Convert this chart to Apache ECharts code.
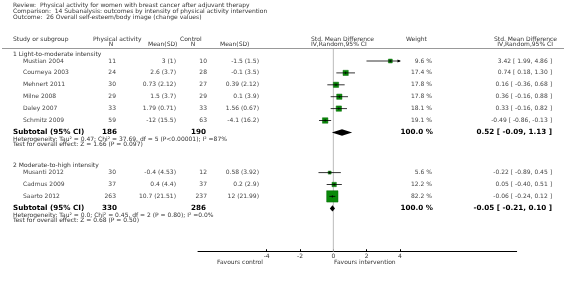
<!DOCTYPE html>
<html>
<head>
<meta charset="utf-8">
<script src="https://cdn.jsdelivr.net/npm/echarts@6/dist/echarts.min.js"></script>
<style>
  html, body { margin: 0; padding: 0; background: #fff; }
  #chart { width: 566px; height: 281px; }
</style>
</head>
<body>
<div id="chart"></div>
<script>
// ---- data ----
const reviewLines = [
  "Review:  Physical activity for women with breast cancer after adjuvant therapy",
  "Comparison:  14 Subanalysis: outcomes by intensity of physical activity intervention",
  "Outcome:  26 Overall self-esteem/body image (change values)",
];

const group1Label = "1 Light-to-moderate intensity";
const studies1 = ["Mustian 2004", "Courneya 2003", "Mehnert 2011", "Milne 2008", "Daley 2007", "Schmitz 2009"];
const paN1 = [11, 24, 30, 29, 33, 59];
const paMean1 = ["3 (1)", "2.6 (3.7)", "0.73 (2.12)", "1.5 (3.7)", "1.79 (0.71)", "-12 (15.5)"];
const cN1 = [10, 28, 27, 29, 33, 63];
const cMean1 = ["-1.5 (1.5)", "-0.1 (3.5)", "0.39 (2.12)", "0.1 (3.9)", "1.56 (0.67)", "-4.1 (16.2)"];
const weight1 = [9.6, 17.4, 17.8, 17.8, 18.1, 19.1];
const smd1 = [3.42, 0.74, 0.16, 0.36, 0.33, -0.49];
const lo1 = [1.99, 0.18, -0.36, -0.16, -0.16, -0.86];
const hi1 = [4.86, 1.30, 0.68, 0.88, 0.82, -0.13];
const subtotal1 = [186, 190, 0.52, -0.09, 1.13]; // paN, cN, smd, lo, hi
const het1 = "Heterogeneity: Tau\u00b2 = 0.47; Chi\u00b2 = 37.69, df = 5 (P<0.00001); I\u00b2 =87%";
const test1 = "Test for overall effect: Z = 1.66 (P = 0.097)";

const group2Label = "2 Moderate-to-high intensity";
const studies2 = ["Musanti 2012", "Cadmus 2009", "Saarto 2012"];
const paN2 = [30, 37, 263];
const paMean2 = ["-0.4 (4.53)", "0.4 (4.4)", "10.7 (21.51)"];
const cN2 = [12, 37, 237];
const cMean2 = ["0.58 (3.92)", "0.2 (2.9)", "12 (21.99)"];
const weight2 = [5.6, 12.2, 82.2];
const smd2 = [-0.22, 0.05, -0.06];
const lo2 = [-0.89, -0.40, -0.24];
const hi2 = [0.45, 0.51, 0.12];
const subtotal2 = [330, 286, -0.05, -0.21, 0.10];
const het2 = "Heterogeneity: Tau\u00b2 = 0.0; Chi\u00b2 = 0.45, df = 2 (P = 0.80); I\u00b2 =0.0%";
const test2 = "Test for overall effect: Z = 0.68 (P = 0.50)";

const axisTicks = [-4, -2, 0, 2, 4];
const favoursLeft = "Favours control";
const favoursRight = "Favours intervention";

// ---- layout ----
const FONT = '"DejaVu Sans", Verdana, sans-serif';
const col = { group: 13, name: 23, paN: 116, paMean: 176, cN: 207, cMean: 259, weight: 432, smd: 552 };
const AXIS_Y = 251.7;
const XMIN = -8.12, XMAX = 11, CLIP = 4;
const PX_PER_UNIT = 16.667;
const ZERO_X = 333.33;

const fmt = (v) => v.toFixed(2);
const ciText = (e, l, h) => fmt(e) + " [ " + fmt(l) + ", " + fmt(h) + " ]";

// build rows with vertical positions
const rows = [];
let y = 54;
function addGroup(label, studies, paN, paMean, cN, cMean, weight, smd, lo, hi, sub, het, test) {
  rows.push({ kind: "group", y: y, text: label });
  y += 7;
  studies.forEach((s, i) => {
    rows.push({ kind: "study", y: y, name: s, paN: paN[i], paMean: paMean[i], cN: cN[i], cMean: cMean[i],
      w: weight[i], est: smd[i], lo: lo[i], hi: hi[i] });
    y += 11.9;
  });
  y += 0.1;
  rows.push({ kind: "subtotal", y: y, paN: sub[0], cN: sub[1], est: sub[2], lo: sub[3], hi: sub[4] });
  y += 6.6;
  rows.push({ kind: "note", y: y, text: het });
  y += 5.8;
  rows.push({ kind: "note", y: y, text: test });
  y += 20.7;
}
addGroup(group1Label, studies1, paN1, paMean1, cN1, cMean1, weight1, smd1, lo1, hi1, subtotal1, het1, test1);
addGroup(group2Label, studies2, paN2, paMean2, cN2, cMean2, weight2, smd2, lo2, hi2, subtotal2, het2, test2);

function txt(x, yy, text, align, font, color) {
  return {
    type: "text", x: x, y: yy,
    style: { text: String(text), textAlign: align, textVerticalAlign: "middle", font: font, fill: color || "#333" },
  };
}

const chart = echarts.init(document.getElementById("chart"), null, { renderer: "canvas" });

const regular = "6px " + FONT;
const bold = "bold 7.2px " + FONT;

const forestLeft = ZERO_X + XMIN * PX_PER_UNIT;
const forestWidth = (XMAX - XMIN) * PX_PER_UNIT;

const option = {
  animation: false,
  grid: [
    { left: 0, right: 0, top: 0, bottom: 0 },
    { left: forestLeft, right: 566 - forestLeft - forestWidth, top: 0, bottom: 281 - AXIS_Y },
  ],
  xAxis: [
    { gridIndex: 0, type: "value", min: 0, max: 566, show: false },
    {
      gridIndex: 1, type: "value", min: XMIN, max: XMAX, position: "bottom",
      splitLine: { show: false },
      axisLine: { onZero: false, lineStyle: { color: "#000", width: 1 } },
      axisTick: { customValues: axisTicks, inside: true, length: 2.5, lineStyle: { color: "#000" } },
      axisLabel: { customValues: axisTicks, fontSize: 6, fontFamily: FONT, color: "#333", margin: 2 },
    },
  ],
  yAxis: [
    { gridIndex: 0, type: "value", min: 0, max: 281, inverse: true, show: false },
    { gridIndex: 1, type: "value", min: 0, max: AXIS_Y, inverse: true, show: false },
  ],
  graphic: [
    ...reviewLines.map((t, i) => ({
      type: "text", left: 13, top: 2 + i * 6,
      style: { text: t, font: regular, fill: "#333" },
    })),
    { type: "line", shape: { x1: 2, y1: 48.5, x2: 564, y2: 48.5 }, style: { stroke: "#999", lineWidth: 1 } },
    {
      type: "group", children: [
        txt(13, 39, "Study or subgroup", "left", regular),
        txt(93, 39, "Physical activity", "left", regular),
        txt(180, 39, "Control", "left", regular),
        txt(311, 39, "Std. Mean Difference", "left", regular),
        txt(406, 39, "Weight", "left", regular),
        txt(557, 39, "Std. Mean Difference", "right", regular),
        txt(111, 44.5, "N", "center", regular),
        txt(148, 44.5, "Mean(SD)", "left", regular),
        txt(193, 44.5, "N", "center", regular),
        txt(220, 44.5, "Mean(SD)", "left", regular),
        txt(311, 44.5, "IV,Random,95% CI", "left", regular),
        txt(553, 44.5, "IV,Random,95% CI", "right", regular),
        txt(217, 262.5, favoursLeft, "left", regular),
        txt(334, 262.5, favoursRight, "left", regular),
      ],
    },
  ],
  series: [
    {
      // table text
      type: "custom", xAxisIndex: 0, yAxisIndex: 0, silent: true,
      data: rows.map((r) => [0, r.y]),
      renderItem: function (params, api) {
        const r = rows[params.dataIndex];
        const py = api.coord([0, r.y])[1];
        const c = [];
        if (r.kind === "group" || r.kind === "note") {
          c.push(txt(col.group, py, r.text, "left", regular));
        } else if (r.kind === "study") {
          c.push(txt(col.name, py, r.name, "left", regular, "#444"));
          c.push(txt(col.paN, py, r.paN, "right", regular, "#444"));
          c.push(txt(col.paMean, py, r.paMean, "right", regular, "#444"));
          c.push(txt(col.cN, py, r.cN, "right", regular, "#444"));
          c.push(txt(col.cMean, py, r.cMean, "right", regular, "#444"));
          c.push(txt(col.weight, py, r.w.toFixed(1) + " %", "right", regular, "#444"));
          c.push(txt(col.smd, py, ciText(r.est, r.lo, r.hi), "right", regular, "#444"));
        } else if (r.kind === "subtotal") {
          c.push(txt(col.group, py, "Subtotal (95% CI)", "left", bold, "#000"));
          c.push(txt(col.paN + 1, py, r.paN, "right", bold, "#000"));
          c.push(txt(col.cN - 1, py, r.cN, "right", bold, "#000"));
          c.push(txt(col.weight + 1, py, "100.0 %", "right", bold, "#000"));
          c.push(txt(col.smd, py, ciText(r.est, r.lo, r.hi), "right", bold, "#000"));
        }
        return { type: "group", children: c };
      },
    },
    {
      // zero line
      type: "line", xAxisIndex: 1, yAxisIndex: 1, silent: true, symbol: "none",
      data: [[0, 49], [0, AXIS_Y]],
      lineStyle: { color: "#bbb", width: 1 },
      z: 1,
    },
    {
      // forest marks
      type: "custom", xAxisIndex: 1, yAxisIndex: 1, silent: true, z: 3,
      data: rows.filter((r) => r.kind === "study" || r.kind === "subtotal").map((r) => [r.est, r.y, r.lo, r.hi, r.w || 0, r.kind === "subtotal" ? 1 : 0]),
      renderItem: function (params, api) {
        const est = api.value(0), yy = api.value(1), lo = api.value(2), hi = api.value(3), w = api.value(4);
        const p = api.coord([est, yy]);
        const pl = api.coord([Math.max(lo, -CLIP), yy]);
        const ph = api.coord([Math.min(hi, CLIP), yy]);
        if (api.value(5) === 1) {
          const pL = api.coord([lo, yy]), pH = api.coord([hi, yy]);
          return {
            type: "polygon",
            shape: { points: [[pL[0], p[1]], [p[0], p[1] - 3.2], [pH[0], p[1]], [p[0], p[1] + 3.2]] },
            style: { fill: "#000" },
          };
        }
        const s = 1.25 * Math.sqrt(w);
        const children = [
          { type: "rect", shape: { x: p[0] - s / 2, y: p[1] - s / 2, width: s, height: s }, style: { fill: "#0a8a0a", stroke: "#066a06", lineWidth: 0.5 } },
          { type: "line", shape: { x1: pl[0], y1: p[1], x2: ph[0], y2: p[1] }, style: { stroke: "#000", lineWidth: 0.8 } },
          { type: "line", shape: { x1: p[0], y1: p[1] - 1.2, x2: p[0], y2: p[1] + 1.2 }, style: { stroke: "#000", lineWidth: 0.8 } },
        ];
        if (hi > CLIP) {
          children.push({ type: "polygon", shape: { points: [[ph[0] + 1, p[1]], [ph[0] - 2.5, p[1] - 1.6], [ph[0] - 2.5, p[1] + 1.6]] }, style: { fill: "#000" } });
        }
        return { type: "group", children: children };
      },
    },
  ],
};

chart.setOption(option);
</script>
</body>
</html>
